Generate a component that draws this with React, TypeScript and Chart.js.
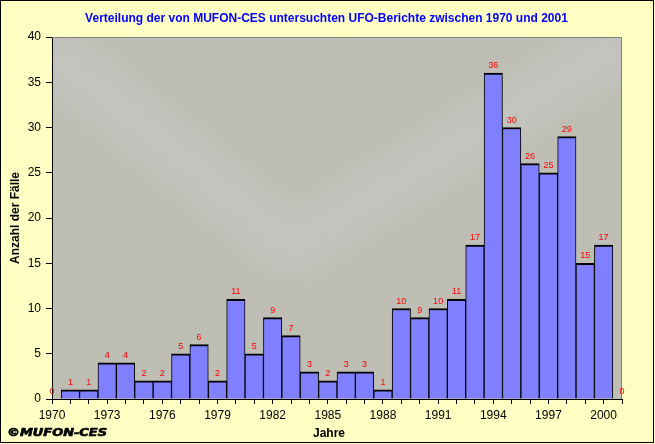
import React, { useEffect, useRef } from 'react';
import { Chart, registerables } from 'chart.js';

Chart.register(...registerables);

const years = [
  1970, 1971, 1972, 1973, 1974, 1975, 1976, 1977, 1978, 1979, 1980, 1981, 1982, 1983, 1984, 1985,
  1986, 1987, 1988, 1989, 1990, 1991, 1992, 1993, 1994, 1995, 1996, 1997, 1998, 1999, 2000, 2001,
];
const counts = [
  0, 1, 1, 4, 4, 2, 2, 5, 6, 2, 11, 5, 9, 7, 3, 2,
  3, 3, 1, 10, 9, 10, 11, 17, 36, 30, 26, 25, 29, 15, 17, 0,
];
const xLabelYears = [1970, 1973, 1976, 1979, 1982, 1985, 1988, 1991, 1994, 1997, 2000];
const yMin = 0;
const yMax = 40;
const yStep = 5;

const chartTitle = 'Verteilung der von MUFON-CES untersuchten UFO-Berichte zwischen 1970 und 2001';
const xTitle = 'Jahre';
const yTitle = 'Anzahl der Fälle';
const credit = '©MUFON-CES';

const FONT = 'Arial, "Liberation Sans", sans-serif';

const decorPlugin = {
  id: 'decor',
  beforeDraw(chart: any) {
    const { ctx, width, height, chartArea: a } = chart;
    const w = a.right - a.left;
    const h = a.bottom - a.top;
    ctx.save();
    ctx.fillStyle = '#FFFFC4';
    ctx.fillRect(0, 0, width, height);
    ctx.fillStyle = '#BFBEB4';
    ctx.fillRect(a.left, a.top, w, h);
    ctx.beginPath();
    ctx.rect(a.left, a.top, w, h);
    ctx.clip();
    ctx.filter = 'blur(14px)';
    ctx.strokeStyle = 'rgba(196,196,193,0.85)';
    ctx.lineWidth = 55;
    ctx.lineJoin = 'round';
    ctx.beginPath();
    ctx.moveTo(a.left - 10, a.top + 0.02 * h);
    ctx.lineTo(a.left + 0.42 * w, a.top + 0.58 * h);
    ctx.lineTo(a.right + 10, a.top + 0.0 * h);
    ctx.stroke();
    ctx.restore();
  },
  afterDatasetsDraw(chart: any) {
    const { ctx, chartArea: a } = chart;
    ctx.save();
    ctx.strokeStyle = '#808080';
    ctx.lineWidth = 1;
    ctx.beginPath();
    ctx.moveTo(a.left, a.top + 0.5);
    ctx.lineTo(a.right - 0.5, a.top + 0.5);
    ctx.lineTo(a.right - 0.5, a.bottom);
    ctx.stroke();
    const meta = chart.getDatasetMeta(0);
    ctx.fillStyle = '#FF0000';
    ctx.font = `9px ${FONT}`;
    ctx.textAlign = 'center';
    ctx.textBaseline = 'alphabetic';
    meta.data.forEach((el: any, i: number) => {
      ctx.fillText(String(counts[i]), el.x, el.y - 5);
    });
    ctx.restore();
  },
  afterDraw(chart: any) {
    const { ctx, width, height } = chart;
    ctx.save();
    ctx.fillStyle = '#0000FF';
    ctx.font = `bold 12px ${FONT}`;
    ctx.textAlign = 'center';
    ctx.textBaseline = 'alphabetic';
    ctx.fillText(chartTitle, 326.5, 22);
    ctx.fillStyle = '#000000';
    ctx.font = `bold 12px ${FONT}`;
    ctx.fillText(xTitle, 329, 437);
    ctx.font = `italic bold 10px "DejaVu Sans", ${FONT}`;
    ctx.textAlign = 'left';
    const mw = ctx.measureText(credit).width;
    ctx.translate(7, 436);
    ctx.scale(100 / mw, 1);
    ctx.lineWidth = 0.6;
    ctx.strokeStyle = '#000000';
    ctx.strokeText(credit, 0, 0);
    ctx.fillText(credit, 0, 0);
    ctx.restore();
    ctx.save();
    ctx.strokeStyle = '#000000';
    ctx.lineWidth = 1;
    ctx.strokeRect(0.5, 0.5, width - 2, height - 2);
    ctx.restore();
  },
};

export default function App() {
  const ref = useRef<HTMLCanvasElement | null>(null);
  useEffect(() => {
    if (!ref.current) return;
    const chart = new Chart(ref.current, {
      type: 'bar',
      data: {
        datasets: [
          {
            data: years.map((y, i) => ({ x: y, y: counts[i] })),
            backgroundColor: '#8080FF',
            borderColor: '#000000',
            borderWidth: { top: 2, left: 1, right: 1, bottom: 0 } as any,
            barPercentage: 1,
            categoryPercentage: 1,
          },
        ],
      },
      options: {
        responsive: false,
        animation: false,
        devicePixelRatio: 1,
        layout: { padding: { top: 37, right: 33, left: 0, bottom: 0 } },
        plugins: {
          legend: { display: false },
          tooltip: { enabled: false },
          title: { display: false },
        },
        scales: {
          x: {
            type: 'linear',
            min: years[0],
            max: years[years.length - 1],
            offset: false,
            grid: {
              offset: false,
              drawOnChartArea: false,
              drawTicks: true,
              tickLength: 5,
              tickColor: '#000000',
              color: '#000000',
            },
            border: { display: true, color: '#000000', width: 1 },
            ticks: {
              stepSize: 1,
              autoSkip: false,
              maxRotation: 0,
              minRotation: 0,
              padding: 4,
              color: '#000000',
              font: { family: FONT, size: 12 },
              callback: (v: any) => (xLabelYears.includes(Number(v)) ? String(v) : ''),
            },
            afterFit: (scale: any) => {
              scale.height = 45;
            },
          },
          y: {
            min: yMin,
            max: yMax,
            grid: {
              drawOnChartArea: false,
              drawTicks: true,
              tickLength: 6,
              tickColor: '#000000',
              color: '#000000',
            },
            border: { display: true, color: '#000000', width: 1 },
            ticks: {
              stepSize: yStep,
              padding: 5,
              color: '#000000',
              font: { family: FONT, size: 12 },
            },
            title: {
              display: true,
              text: yTitle,
              color: '#000000',
              font: { family: FONT, size: 12, weight: 'bold' },
              padding: { top: 8, bottom: 0 },
            },
            afterFit: (scale: any) => {
              scale.width = 52;
            },
          },
        },
      },
      plugins: [decorPlugin],
    });
    return () => chart.destroy();
  }, []);
  return (
    <div style={{ position: 'absolute', left: 0, top: 0, width: 655, height: 444 }}>
      <canvas ref={ref} width={655} height={444} style={{ display: 'block' }} />
    </div>
  );
}
